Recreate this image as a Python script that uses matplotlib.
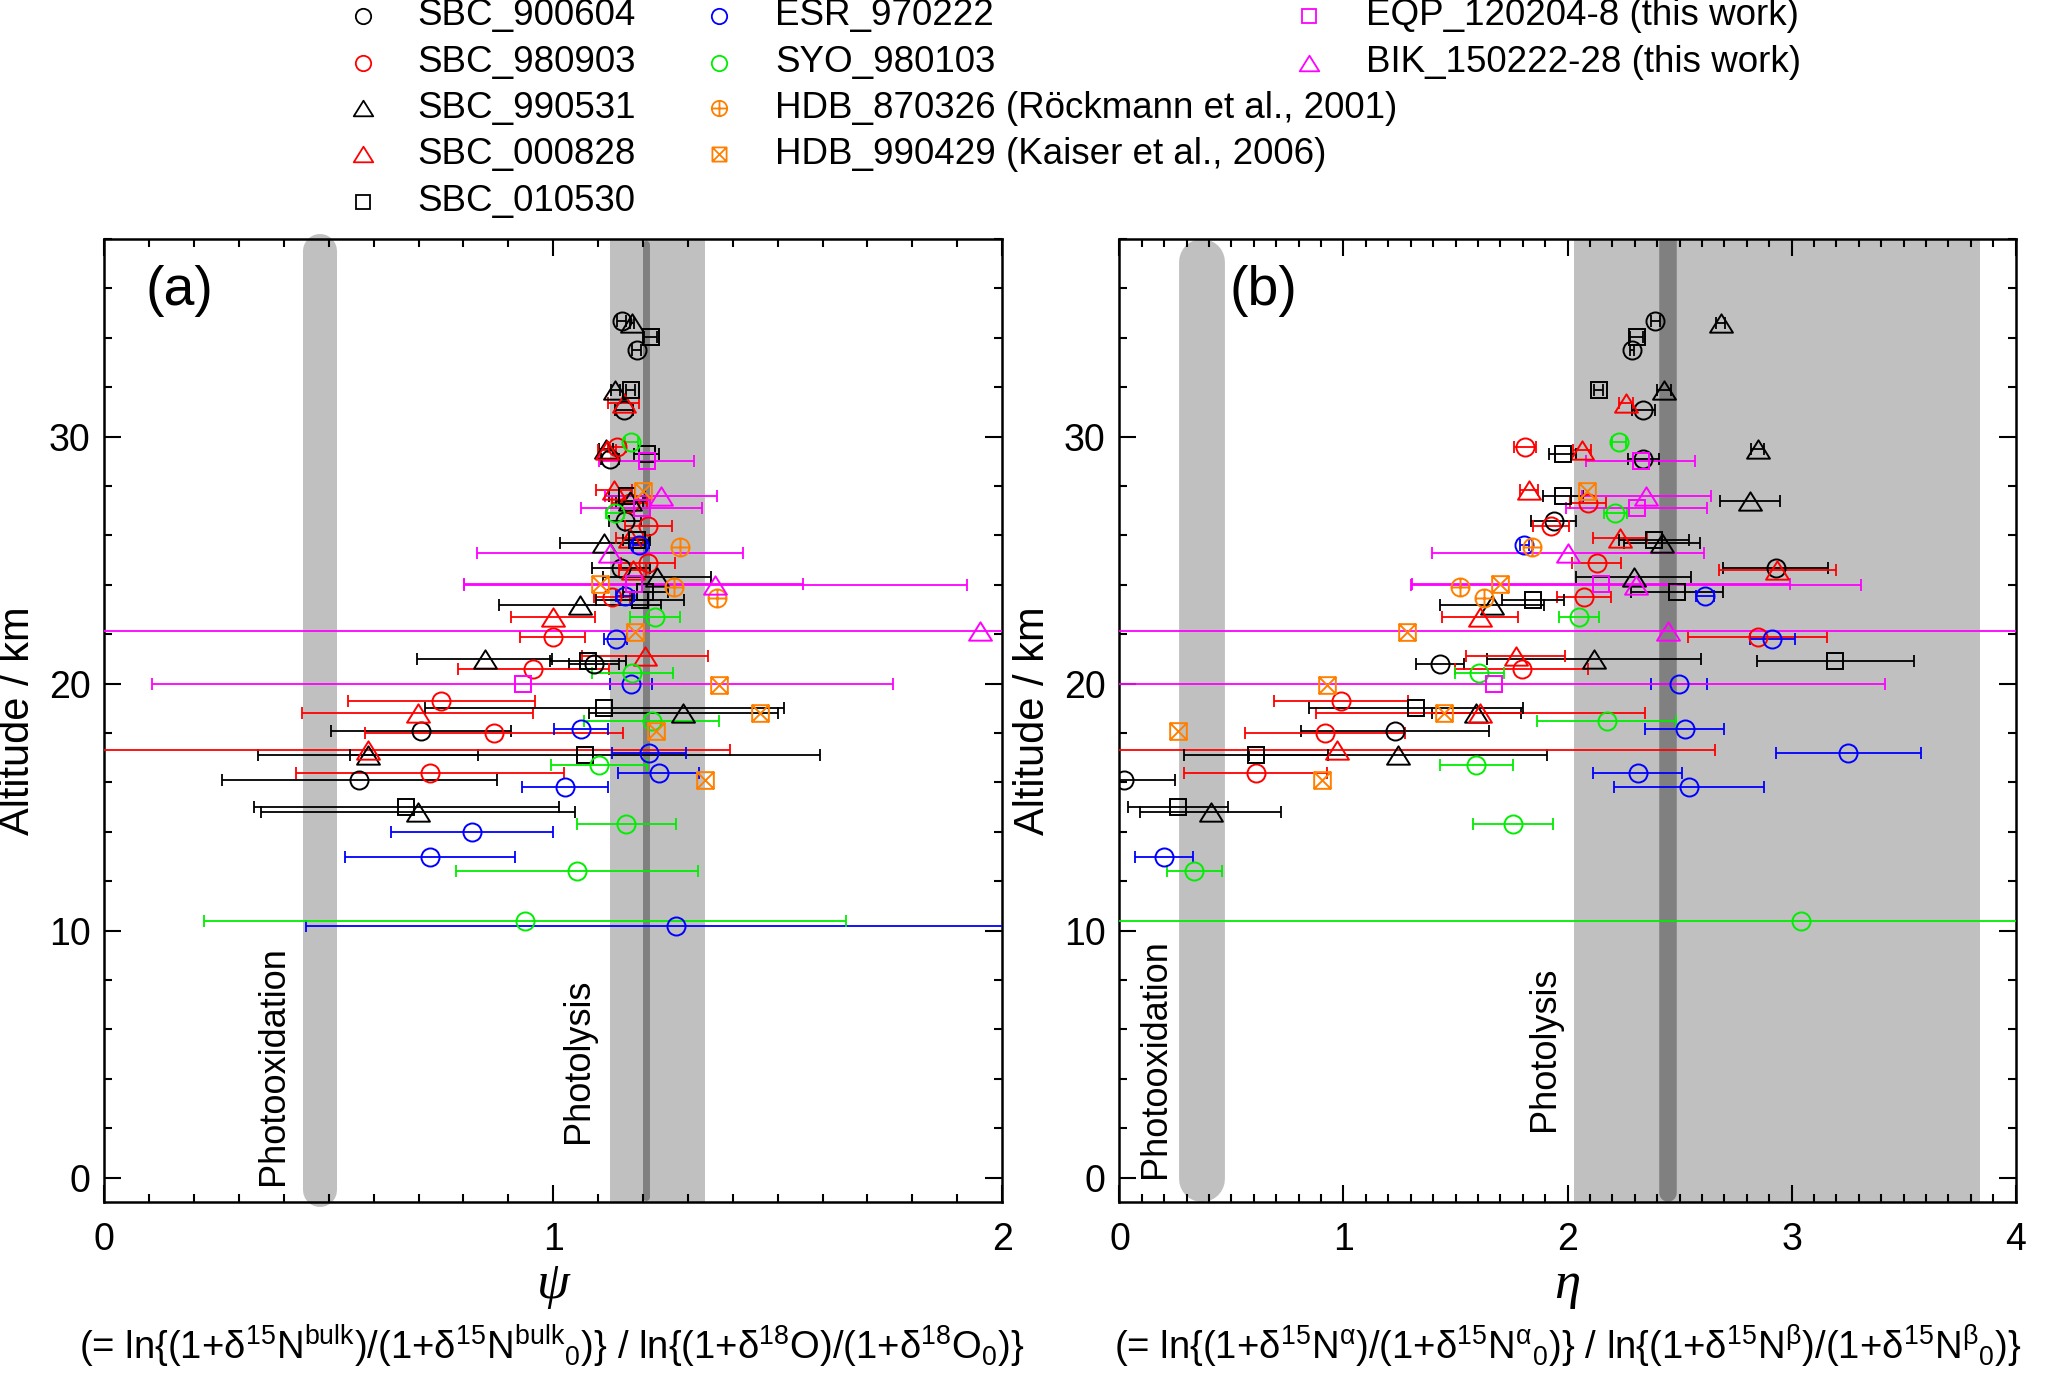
import numpy as np
import matplotlib
matplotlib.use("Agg")
from matplotlib import pyplot as plt
from matplotlib.path import Path
from matplotlib.lines import Line2D
from matplotlib.ticker import MultipleLocator

plt.rcParams['font.family'] = ['Liberation Sans', 'DejaVu Sans']
plt.rcParams['mathtext.fontset'] = 'custom'
plt.rcParams['mathtext.rm'] = 'Liberation Sans'
plt.rcParams['mathtext.it'] = 'Liberation Sans:italic'
plt.rcParams['mathtext.bf'] = 'Liberation Sans:bold'

nan = np.nan

# ---- data: altitude (km), psi (panel a) and eta (panel b) with 1-sigma x errors
sbc900604_alt = [34.7, 33.5, 31.1, 29.1, 26.6, 24.7, 20.8, 18.1, 16.1]
sbc900604_psi = [1.153, 1.186, 1.158, 1.127, 1.16, 1.151, 1.091, 0.705, 0.568]
sbc900604_psi_err = [0.01, 0.01, 0.02, 0.02, 0.035, 0.065, 0.055, 0.2, 0.307]
sbc900604_eta = [2.392, 2.287, 2.339, 2.339, 1.939, 2.929, 1.431, 1.229, 0.02]
sbc900604_eta_err = [0.02, 0.01, 0.05, 0.07, 0.1, 0.234, 0.107, 0.42, 0.23]

sbc980903_alt = [29.6, 27.3, 26.4, 24.9, 23.5, 21.9, 20.6, 19.3, 18.0, 16.4]
sbc980903_psi = [1.142, 1.17, 1.212, 1.212, 1.131, 0.999, 0.956, 0.751, 0.868, 0.725]
sbc980903_psi_err = [0.02, 0.04, 0.053, 0.06, 0.04, 0.072, 0.168, 0.208, 0.288, 0.298]
sbc980903_eta = [1.81, 2.09, 1.926, 2.13, 2.072, 2.849, 1.795, 0.99, 0.918, 0.608]
sbc980903_eta_err = [0.05, 0.08, 0.08, 0.11, 0.12, 0.31, 0.296, 0.3, 0.357, 0.32]

sbc990531_alt = [34.6, 31.9, 29.5, 27.4, 25.7, 24.3, 23.2, 21.0, 18.8, 17.1, 14.8]
sbc990531_psi = [1.175, 1.138, 1.118, 1.17, 1.114, 1.231, 1.06, 0.847, 1.29, 0.588, 0.699]
sbc990531_psi_err = [0.005, 0.01, 0.015, 0.03, 0.1, 0.12, 0.18, 0.15, 0.21, 0.245, 0.35]
sbc990531_eta = [2.685, 2.43, 2.849, 2.815, 2.42, 2.296, 1.664, 2.117, 1.593, 1.243, 0.407]
sbc990531_eta_err = [0.02, 0.03, 0.03, 0.135, 0.17, 0.257, 0.232, 0.478, 0.2, 0.664, 0.316]

sbc000828_alt = [31.35, 29.45, 27.85, 25.9, 24.6, 22.7, 21.1, 18.8, 17.3]
sbc000828_psi = [1.157, 1.12, 1.136, 1.17, 1.177, 1.0, 1.205, 0.698, 0.588]
sbc000828_psi_err = [0.035, 0.02, 0.04, 0.03, 0.03, 0.093, 0.14, 0.258, 0.806]
sbc000828_eta = [2.262, 2.065, 1.829, 2.235, 2.937, 1.611, 1.768, 1.611, 0.971]
sbc000828_eta_err = [0.03, 0.04, 0.04, 0.12, 0.26, 0.17, 0.22, 0.734, 1.687]

sbc010530_alt = [34.05, 31.9, 29.3, 27.6, 25.8, 23.7, 23.4, 20.9, 19.0, 17.1, 15.0]
sbc010530_psi = [1.217, 1.173, 1.208, 1.164, 1.186, 1.205, 1.194, 1.078, 1.114, 1.071, 0.673]
sbc010530_psi_err = [0.015, 0.01, 0.027, 0.04, 0.03, 0.05, 0.098, 0.085, 0.4, 0.523, 0.34]
sbc010530_eta = [2.308, 2.14, 1.978, 1.98, 2.387, 2.49, 1.846, 3.196, 1.324, 0.609, 0.262]
sbc010530_eta_err = [0.03, 0.02, 0.06, 0.09, 0.157, 0.205, 0.137, 0.349, 0.478, 0.321, 0.222]

esr970222_alt = [25.6, 23.55, 21.8, 20.0, 18.15, 17.2, 16.4, 15.8, 14.0, 13.0, 10.2]
esr970222_psi = [1.192, 1.16, 1.139, 1.173, 1.062, 1.213, 1.235, 1.026, 0.819, 0.725, 1.274]
esr970222_psi_err = [0.015, 0.02, 0.025, 0.046, 0.061, 0.082, 0.09, 0.095, 0.18, 0.19, 0.825]
esr970222_eta = [1.806, 2.614, 2.915, 2.497, 2.523, 3.254, 2.313, 2.542, nan, 0.2, nan]
esr970222_eta_err = [0.02, 0.04, 0.1, 0.126, 0.175, 0.325, 0.2, 0.333, nan, 0.13, nan]

syo980103_alt = [29.8, 26.9, 22.7, 20.45, 18.5, 16.7, 14.3, 12.4, 10.4]
syo980103_psi = [1.174, 1.138, 1.227, 1.176, 1.219, 1.103, 1.163, 1.053, 0.938]
syo980103_psi_err = [0.015, 0.02, 0.055, 0.09, 0.15, 0.107, 0.11, 0.27, 0.715]
syo980103_eta = [2.23, 2.214, 2.05, 1.606, 2.176, 1.593, 1.756, 0.333, 3.042]
syo980103_eta_err = [0.03, 0.05, 0.09, 0.11, 0.31, 0.163, 0.18, 0.123, 4.0]

hdb870326_alt = [25.55, 23.9, 23.45]
hdb870326_psi = [1.283, 1.268, 1.365]
hdb870326_eta = [1.842, 1.52, 1.628]

hdb990429_alt = [27.8, 24.05, 22.1, 19.95, 18.8, 18.1, 16.1]
hdb990429_psi = [1.201, 1.104, 1.182, 1.369, 1.461, 1.228, 1.339]
hdb990429_eta = [2.085, 1.698, 1.284, 0.925, 1.449, 0.262, 0.905]

eqp120204_alt = [29.0, 27.1, 24.05, 20.0]
eqp120204_psi = [1.208, 1.197, 1.179, 0.932]
eqp120204_psi_err = [0.106, 0.135, 0.378, 0.825]
eqp120204_eta = [2.326, 2.308, 2.149, 1.672]
eqp120204_eta_err = [0.243, 0.315, 0.845, 1.745]

bik150222_alt = [27.6, 25.3, 24.0, 22.15]
bik150222_psi = [1.24, 1.127, 1.361, 1.95]
bik150222_psi_err = [0.125, 0.296, 0.56, 3.0]
bik150222_eta = [2.352, 2.004, 2.307, 2.449]
bik150222_eta_err = [0.289, 0.607, 1.005, 5.0]

# ---- marker shapes
circ_plus = Path.make_compound_path(Path.unit_circle(),
                                    Path([[-1, 0], [1, 0]]),
                                    Path([[0, -1], [0, 1]]))
sq_x = Path.make_compound_path(
    Path([[-1, -1], [1, -1], [1, 1], [-1, 1], [-1, -1]],
         [Path.MOVETO, Path.LINETO, Path.LINETO, Path.LINETO, Path.CLOSEPOLY]),
    Path([[-1, -1], [1, 1]]), Path([[-1, 1], [1, -1]]))
tri = Path([[0, 0.8], [-1, -0.8], [1, -0.8], [0, 0.8]],
           [Path.MOVETO, Path.LINETO, Path.LINETO, Path.CLOSEPOLY])

series = [
    ("SBC_900604", "black", "o", 13, sbc900604_alt, sbc900604_psi, sbc900604_psi_err, sbc900604_eta, sbc900604_eta_err),
    ("SBC_980903", "#ff0000", "o", 13, sbc980903_alt, sbc980903_psi, sbc980903_psi_err, sbc980903_eta, sbc980903_eta_err),
    ("SBC_990531", "black", tri, 16.5, sbc990531_alt, sbc990531_psi, sbc990531_psi_err, sbc990531_eta, sbc990531_eta_err),
    ("SBC_000828", "#ff0000", tri, 16.5, sbc000828_alt, sbc000828_psi, sbc000828_psi_err, sbc000828_eta, sbc000828_eta_err),
    ("SBC_010530", "black", "s", 12, sbc010530_alt, sbc010530_psi, sbc010530_psi_err, sbc010530_eta, sbc010530_eta_err),
    ("ESR_970222", "#0000ff", "o", 13, esr970222_alt, esr970222_psi, esr970222_psi_err, esr970222_eta, esr970222_eta_err),
    ("SYO_980103", "#00ee00", "o", 13, syo980103_alt, syo980103_psi, syo980103_psi_err, syo980103_eta, syo980103_eta_err),
    ("HDB_870326 (R\u00f6ckmann et al., 2001)", "#ff8000", circ_plus, 13, hdb870326_alt, hdb870326_psi, None, hdb870326_eta, None),
    ("HDB_990429 (Kaiser et al., 2006)", "#ff8000", sq_x, 12, hdb990429_alt, hdb990429_psi, None, hdb990429_eta, None),
    ("EQP_120204-8 (this work)", "#ff00ff", "s", 12, eqp120204_alt, eqp120204_psi, eqp120204_psi_err, eqp120204_eta, eqp120204_eta_err),
    ("BIK_150222-28 (this work)", "#ff00ff", tri, 16.5, bik150222_alt, bik150222_psi, bik150222_psi_err, bik150222_eta, bik150222_eta_err),
]

tick_sz = 27
label_sz = 30
legend_sz = 26.5
note_sz = 27.5
band_col = "#c0c0c0"
dark_col = "#808080"


def draw_series(ax, alt, x, xerr, color, marker, ms):
    y = np.array(alt, float)
    x = np.array(x, float)
    ok = ~np.isnan(x)
    if xerr is not None:
        e = np.array(xerr, float)[ok]
        ax.errorbar(x[ok], y[ok], xerr=e, fmt="none", ecolor=color,
                    elinewidth=1.3, capsize=4.5, capthick=1.3, zorder=3)
    ax.plot(x[ok], y[ok], ls="none", marker=marker, ms=ms, mfc="none",
            mec=color, mew=1.4, zorder=4)


def style_axes(ax, xmax):
    ax.set_xlim(0, xmax)
    ax.set_ylim(-1, 38)
    ax.xaxis.set_major_locator(MultipleLocator(1))
    ax.xaxis.set_minor_locator(MultipleLocator(0.1))
    ax.yaxis.set_major_locator(MultipleLocator(10))
    ax.yaxis.set_minor_locator(MultipleLocator(2))
    ax.tick_params(which="both", direction="in", top=True, right=True,
                   labelsize=tick_sz, width=1.5)
    ax.tick_params(which="major", length=12)
    ax.tick_params(which="minor", length=6)
    ax.tick_params(axis="x", pad=14)
    ax.tick_params(axis="y", pad=10)
    for sp in ax.spines.values():
        sp.set_linewidth(1.8)
    ax.set_ylabel("Altitude / km", fontsize=label_sz, labelpad=8)


fig = plt.figure(figsize=(20.67, 13.90), dpi=100)
ax_a = fig.add_axes([0.0505, 0.135, 0.4343, 0.693])
ax_b = fig.add_axes([0.5416, 0.135, 0.4335, 0.693])

# ---- panel (a): psi
ax_a.axvspan(1.127, 1.339, color=band_col, lw=0, zorder=0)
ax_a.plot([0.4795, 0.4795], [-0.5, 37.5], color=band_col, lw=24.5,
          solid_capstyle="round", clip_on=False, zorder=0)
ax_a.plot([1.206, 1.206], [-0.8, 37.8], color=dark_col, lw=5,
          solid_capstyle="round", clip_on=False, zorder=1)
for name, col, mk, ms, alt, psi, psi_err, eta, eta_err in series:
    draw_series(ax_a, alt, psi, psi_err, col, mk, ms)
style_axes(ax_a, 2)
ax_a.text(0.376, -0.3, "Photooxidation", rotation=90, ha="center",
          va="bottom", fontsize=26)
ax_a.text(1.056, 1.4, "Photolysis", rotation=90, ha="center",
          va="bottom", fontsize=26)
ax_a.text(0.168, 35.9, "(a)", ha="center", va="center", fontsize=40)
ax_a.set_xlabel("\u03c8", fontsize=38, family="Liberation Serif",
                style="italic", labelpad=2)

# ---- panel (b): eta
ax_b.axvspan(2.03, 3.84, color=band_col, lw=0, zorder=0)
ax_b.plot([0.368, 0.368], [-0.07, 37.07], color=band_col, lw=33,
          solid_capstyle="round", zorder=0)
ax_b.plot([2.45, 2.45], [-0.63, 39], color=dark_col, lw=12.6,
          solid_capstyle="round", zorder=1)
for name, col, mk, ms, alt, psi, psi_err, eta, eta_err in series:
    draw_series(ax_b, alt, eta, eta_err, col, mk, ms)
style_axes(ax_b, 4)
ax_b.text(0.159, 0.0, "Photooxidation", rotation=90, ha="center",
          va="bottom", fontsize=26)
ax_b.text(1.897, 1.9, "Photolysis", rotation=90, ha="center",
          va="bottom", fontsize=26)
ax_b.text(0.642, 35.9, "(b)", ha="center", va="center", fontsize=40)
ax_b.set_xlabel("\u03b7", fontsize=38, family="Liberation Serif",
                style="italic", labelpad=2)

# ---- definitions under the x labels
fig.text(0.267, 0.022,
         r"(= ln{(1+$\mathrm{\delta}^{15}$N$^{\rm bulk}$)/(1+$\mathrm{\delta}^{15}$N$^{\rm bulk}{}_{0}$)}"
         r" / ln{(1+$\mathrm{\delta}^{18}$O)/(1+$\mathrm{\delta}^{18}$O$_{0}$)}",
         ha="center", va="baseline", fontsize=note_sz)
fig.text(0.7586, 0.022,
         r"(= ln{(1+$\mathrm{\delta}^{15}$N$^{\mathrm{\alpha}}$)/(1+$\mathrm{\delta}^{15}$N$^{\mathrm{\alpha}}{}_{0}$)}"
         r" / ln{(1+$\mathrm{\delta}^{15}$N$^{\mathrm{\beta}}$)/(1+$\mathrm{\delta}^{15}$N$^{\mathrm{\beta}}{}_{0}$)}",
         ha="center", va="baseline", fontsize=note_sz)

# ---- legend, three columns above the panels
rows = [0.9886, 0.955, 0.922, 0.889, 0.855]
cols = [(0.1756, 0.2018, [0, 1, 2, 3, 4]),
        (0.348, 0.375, [5, 6, 7, 8]),
        (0.6335, 0.661, [9, 10])]
for mx, tx, idx in cols:
    for r, i in enumerate(idx):
        name, col, mk, ms = series[i][:4]
        fig.add_artist(Line2D([mx], [rows[r]], transform=fig.transFigure,
                              ls="none", marker=mk, ms=ms * 0.85, mfc="none",
                              mec=col, mew=1.3))
        fig.text(tx, rows[r], name, ha="left", va="center",
                 fontsize=legend_sz)

fig.savefig("out.png", dpi=100)
